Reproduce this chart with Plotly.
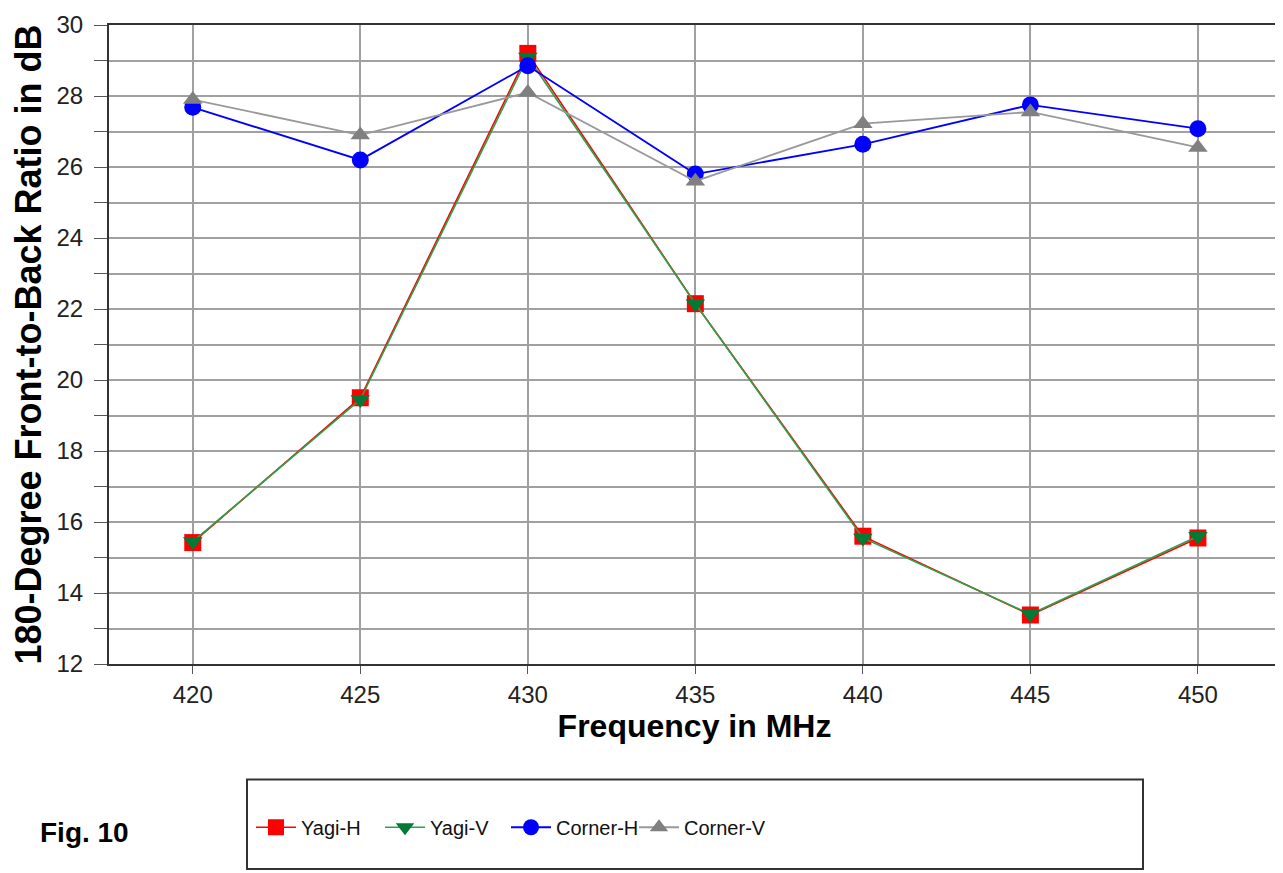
import plotly.graph_objects as go

freq = [420, 425, 430, 435, 440, 445, 450]
yagi_h = [15.42, 19.5, 29.2, 22.15, 15.6, 13.38, 15.55]
yagi_v = [15.45, 19.45, 29.1, 22.15, 15.55, 13.4, 15.6]
corner_h = [27.68, 26.2, 28.85, 25.8, 26.64, 27.75, 27.08]
corner_v = [27.9, 26.9, 28.1, 25.6, 27.22, 27.55, 26.55]

x_ticks = [420, 425, 430, 435, 440, 445, 450]
y_ticks = [12, 14, 16, 18, 20, 22, 24, 26, 28, 30]

OFF = 8  # browser body margin
W, H = 1283 - OFF, 873 - OFF
ML, MR, MT, MB = 109 - OFF, 3, 22 - OFF, 209
PW, PH = W - ML - MR, H - MT - MB

def px_x(p):
    return (p - OFF - ML) / PW

def px_y(p):
    return (H - MB - (p - OFF)) / PH

FONT = "Liberation Sans, Arial, sans-serif"

fig = go.Figure()
series = [
    ("Yagi-H", yagi_h, "#ff0000", "#ff0000", "square", 17, 1.6, 253),
    ("Yagi-V", yagi_v, "#2aa24a", "#007a35", "triangle-down", 17, 1.6, 382),
    ("Corner-H", corner_h, "#0000ff", "#0000ff", "circle", 17, 1.8, 508),
    ("Corner-V", corner_v, "#999999", "#808080", "triangle-up", 17, 1.8, 636),
]
legends = {}
for i, (name, vals, lc, mc, sym, ms, lw, lx) in enumerate(series):
    lname = "legend" if i == 0 else f"legend{i+1}"
    fig.add_trace(go.Scatter(
        x=freq, y=vals, name=name, mode="lines+markers",
        line=dict(color=lc, width=lw),
        marker=dict(symbol=sym, size=ms, color=mc, line=dict(width=0)),
        legend=lname,
    ))
    legends[lname] = dict(
        orientation="h", x=px_x(lx - 2), xanchor="left",
        y=px_y(828), yanchor="middle",
        font=dict(family=FONT, size=20, color="#111111"),
        bgcolor="rgba(0,0,0,0)", borderwidth=0, itemwidth=40,
    )

fig.update_layout(
    width=W, height=H,
    margin=dict(l=ML, r=MR, t=MT, b=MB),
    paper_bgcolor="white", plot_bgcolor="white",
    showlegend=True,
    xaxis=dict(
        range=[417.5, 452.45], tickvals=x_ticks, ticktext=[str(v) for v in x_ticks],
        showgrid=True, gridcolor="#a0a0a0", gridwidth=2,
        showline=True, linecolor="#333333", linewidth=2, mirror=True,
        ticks="outside", ticklen=8, tickcolor="#555555", tickwidth=1,
        tickfont=dict(family=FONT, size=24, color="#222222"),
        title=dict(text="<b>Frequency in MHz</b>", standoff=4,
                   font=dict(family=FONT, size=32, color="#000000")),
        zeroline=False,
    ),
    yaxis=dict(
        range=[12, 30], tickvals=y_ticks, ticktext=[str(v) for v in y_ticks],
        showgrid=True, gridcolor="#a0a0a0", gridwidth=2,
        showline=True, linecolor="#333333", linewidth=2,
        ticks="outside", ticklen=13, tickcolor="#555555", tickwidth=1,
        ticklabelstandoff=6,
        minor=dict(dtick=1, showgrid=True, gridcolor="#a0a0a0", gridwidth=2,
                   ticks="outside", ticklen=13, tickcolor="#555555"),
        tickfont=dict(family=FONT, size=24, color="#222222"),
        title=dict(text="<b>180-Degree Front-to-Back Ratio in dB</b>", standoff=6,
                   font=dict(family=FONT, size=36, color="#000000")),
        zeroline=False,
    ),
    shapes=[
        dict(type="rect", xref="paper", yref="paper",
             x0=px_x(247), x1=px_x(1143), y0=px_y(870), y1=px_y(780),
             line=dict(color="#333333", width=2), fillcolor="rgba(0,0,0,0)"),
        dict(type="line", xref="paper", yref="paper", x0=1, x1=1, y0=0, y1=1,
             line=dict(color="#a0a0a0", width=2)),
    ],
    annotations=[
        dict(text="<b>Fig. 10</b>", xref="paper", yref="paper",
             x=px_x(38), y=px_y(833), xanchor="left", yanchor="middle",
             showarrow=False, font=dict(family=FONT, size=28, color="#000000")),
    ],
    **legends,
)

fig.write_html("out.html")
